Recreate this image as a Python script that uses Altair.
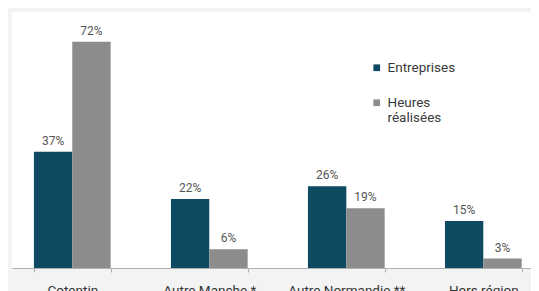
import altair as alt
import pandas as pd

categories = ["Cotentin", "Autre Manche *", "Autre Normandie **", "Hors région"]
series = ["Entreprises", "Heures réalisées"]
entreprises = [37, 22, 26, 15]
heures = [72, 6, 19, 3]

rows = []
for i, c in enumerate(categories):
    rows.append({"cat": c, "serie": series[0], "val": entreprises[i], "lab": f"{entreprises[i]}%"})
    rows.append({"cat": c, "serie": series[1], "val": heures[i], "lab": f"{heures[i]}%"})
df = pd.DataFrame(rows)

xenc = alt.X("cat:N", sort=categories, title=None,
             scale=alt.Scale(range=[0, 531.6], paddingInner=0.44, paddingOuter=0.16),
             axis=alt.Axis(labelAngle=0, labelFontSize=13.5, labelColor="#333333",
                           labelFont="Roboto", domainColor="#b0b0b0", tickColor="#b0b0b0",
                           tickSize=4, tickBand="extent", labelPadding=11))
yenc = alt.Y("val:Q", scale=alt.Scale(domain=[0, 81.5], nice=False, zero=True), axis=None)
xoff = alt.XOffset("serie:N", sort=series, scale=alt.Scale(paddingInner=0, paddingOuter=0))

bars = alt.Chart(df).mark_bar().encode(
    x=xenc, y=yenc, xOffset=xoff,
    color=alt.Color("serie:N", sort=series,
                    scale=alt.Scale(domain=series, range=["#0e4a62", "#8c8c8c"]),
                    legend=alt.Legend(title=None, orient="none", legendX=358, legendY=49,
                                      symbolType="square", symbolSize=45, symbolStrokeWidth=0,
                                      labelFontSize=13.5, labelFont="Roboto", labelColor="#3a3a3a",
                                      rowPadding=20, labelOffset=4,
                                      labelExpr="datum.label == 'Heures réalisées' ? ['Heures', 'réalisées'] : datum.label")),
)

text = alt.Chart(df).mark_text(baseline="bottom", dy=-4, fontSize=12, font="Roboto",
                               color="#555555").encode(
    x=xenc, y=yenc, xOffset=xoff, text="lab:N")

chart = (bars + text).properties(
    width=519, height=256,
    autosize=alt.AutoSizeParams(type="none"),
    padding={"left": 4, "top": 4, "right": 0, "bottom": 23},
    background="#f3f3f3",
).configure_view(fill="white", stroke=None)

chart.save("out.html", embed_options={"renderer": "svg", "actions": False})
